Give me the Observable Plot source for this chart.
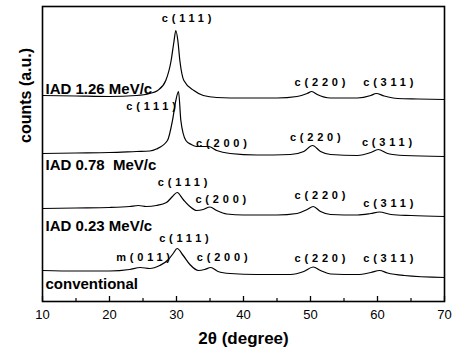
<!DOCTYPE html>
<html><head><meta charset="utf-8">
<script src="https://cdn.jsdelivr.net/npm/d3@7"></script>
<script src="https://cdn.jsdelivr.net/npm/@observablehq/plot@0.6"></script>
<style>
body{margin:0;background:#fff}
</style></head><body><div id="chart"></div>
<script>
// 2θ positions and intensities (arbitrary units, stacked) for each sample
const iad126X = [10,15,20,24,26,27.2,28.4,29.2,29.6,29.9,30.2,30.5,31.1,32.6,34,36,40,45,48,49.5,50.2,51,53,57,59,59.8,61,63,66,70];
const iad126Y = [206,205.5,205,206,208,211,221,241,259,271,261,241,221,211,206,204,203.5,203.5,205,208,210,207,203.5,203.5,206,208,205.5,203,202.5,202];

const iad078X = [10,15,20,24,26,27,28.65,29.4,29.9,30.3,30.65,31.4,32.2,33,34,34.8,36,38,42,47,49,50.3,51.5,53,57,59,60.1,61.5,64,70];
const iad078Y = [148,148.5,149,150,150.5,152.5,161,181,201,210,181,161,157,155,155,155,151,148,146.5,147,150,156,150,147,146,149,152,148,146,145];

const iad023X = [10,15,20,23,24.3,25.5,27,28.5,29.4,30.1,31,32,33,34,35,36,37.5,40,45,48,49.5,50.4,51.5,53,57,59,60.3,62,65,70];
const iad023Y = [93,93.5,94,95,96,95,96,99,105,109,102,95,91,92,94.5,91,87.5,86.5,86.5,88,92,95,90,87,86.5,88,89.5,87,86,85];

const convX = [10,15,20,23,24.6,26,27.5,28.8,29.5,30.1,31,32,33.3,34.2,35.1,36.2,38,42,47,49,50.4,51.5,53,57,59,60.3,61.5,64,70];
const convY = [31,30.5,30.5,32,34,33,36,42,48,53,46,37,31,32,34,30,28,27,27,30,34.5,31,27.5,27,29,31,28.5,26,24];

// Sample names
const sampleNames = ["IAD 1.26 MeV/c", "IAD 0.78  MeV/c", "IAD 0.23 MeV/c", "conventional"];
const sampleNameY = [212, 136, 75, 17];

// Peak labels: text, 2θ position, intensity position
const peakText = ["c(111)","c(220)","c(311)", "c(111)","c(200)","c(220)","c(311)", "c(111)","c(200)","c(220)","c(311)", "c(111)","m(011)","c(200)","c(220)","c(311)"];
const peakX    = [31.5,51.4,61.6, 26.2,36.7,50.7,61.4, 30.9,36.6,51.4,61.6, 31.1,25.0,36.8,51.4,61.6];
const peakY    = [283,219,219, 195,158,164,159, 119,102,106,98, 63,44,44,43,43];

const xTicks = [10,20,30,40,50,60,70];
const minorTicks = [15,25,35,45,55,65];

const curves = [[iad126X,iad126Y],[iad078X,iad078Y],[iad023X,iad023Y],[convX,convY]];
const rows = curves.flatMap(([xs, ys], i) => xs.map((x, j) => ({series: sampleNames[i], x, y: ys[j]})));
const names = sampleNames.map((t, i) => ({t, y: sampleNameY[i]}));
const peaks = peakText.map((t, i) => ({t, x: peakX[i], y: peakY[i]}));

const chart = Plot.plot({
  width: 456, height: 358,
  marginLeft: 42, marginRight: 12, marginTop: 6, marginBottom: 57,
  style: {fontFamily: "Liberation Sans, Arial, sans-serif", background: "#fff", color: "#000"},
  x: {domain: [10, 70]},
  y: {domain: [0, 295], axis: null},
  marks: [
    Plot.frame({stroke: "#000", strokeWidth: 1.6}),
    Plot.tickX(xTicks, {x: d => d, insetTop: 290, stroke: "#000", strokeWidth: 1.3}),
    Plot.tickX(minorTicks, {x: d => d, insetTop: 292, stroke: "#000", strokeWidth: 1.2}),
    Plot.axisX({ticks: xTicks, tickSize: 0, tickPadding: 8, fontSize: 13, label: null, tickFormat: d => d}),
    Plot.line(rows, {x: "x", y: "y", z: "series", stroke: "#000", strokeWidth: 1.2, curve: "monotone-x"}),
    Plot.text(names, {x: 10, y: "y", text: "t", textAnchor: "start", dx: 3, fontSize: 15, fontWeight: "bold", fill: "#000"}),
    Plot.text(peaks, {x: "x", y: "y", text: "t", dx: 2, fontSize: 11, fontWeight: "bold", fill: "#000"}),
    Plot.text(["2θ (degree)"], {frameAnchor: "bottom", dy: 42, fontSize: 17, fontWeight: "bold", fill: "#000"}),
    Plot.text(["counts (a.u.)"], {frameAnchor: "left", dx: -17, dy: -11, rotate: -90, fontSize: 16, fontWeight: "bold", fill: "#000"})
  ]
});
// widen the spacing of the peak labels
d3.select(chart).selectAll("text").filter(function() { return peakText.includes(this.textContent); })
  .attr("letter-spacing", "3.8px");
document.getElementById("chart").appendChild(chart);
</script></body></html>
